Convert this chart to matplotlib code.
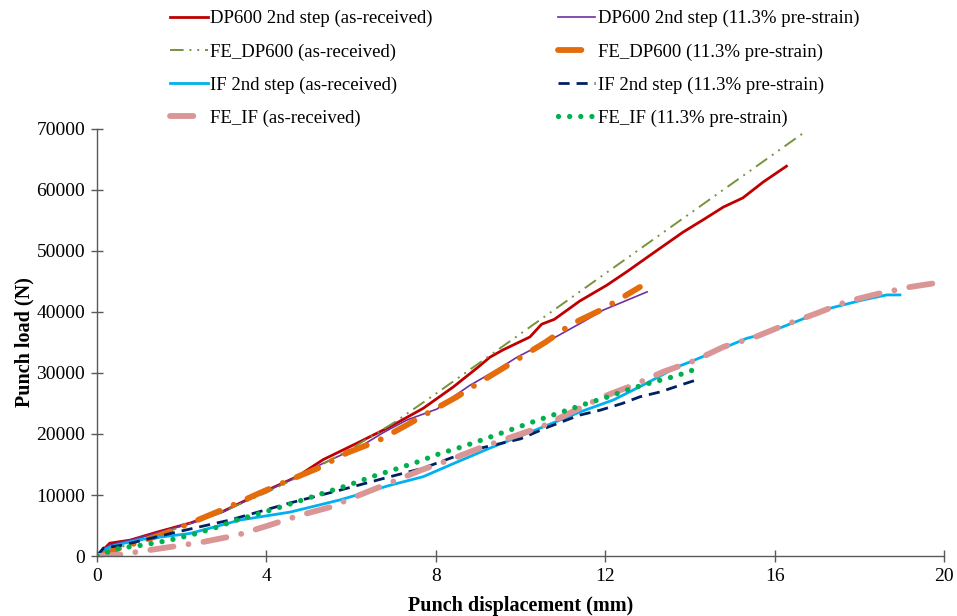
import numpy as np
import matplotlib.pyplot as plt

plt.rcParams['font.family'] = ['Liberation Serif', 'DejaVu Serif']

# DP600 2nd step (as-received)
dp_ar_x = [0, 0.07, 0.3, 0.78, 1.41, 2.2, 2.97, 3.77, 4.72, 5.34, 6.14, 6.92, 7.7, 8.41, 8.97,
           9.28, 9.59, 10.22, 10.5, 10.8, 11.4, 12.04, 12.51, 13.06, 13.84, 14.31, 14.79, 15.25,
           15.73, 16.28]
dp_ar_y = [0, 500, 2100, 2600, 3900, 5400, 7300, 10000, 13000, 15800, 18500, 21200, 24200, 27700,
           30800, 32600, 33800, 35900, 38000, 38800, 41800, 44400, 46600, 49300, 53100, 55100,
           57200, 58700, 61300, 63900]

# DP600 2nd step (11.3% pre-strain)
dp_ps_x = [0, 0.3, 0.78, 1.41, 2.2, 2.97, 3.77, 4.72, 5.34, 6.28, 6.75, 7.32, 8.03, 8.41, 8.81,
           9.44, 9.92, 10.7, 11.48, 11.95, 12.99]
dp_ps_y = [0, 1800, 2600, 3800, 5300, 7200, 9900, 13000, 15200, 18200, 20200, 22300, 24100, 26100,
           28000, 30500, 32600, 35400, 38400, 40300, 43300]

# FE_DP600 (as-received)
fe_dp_ar_x = [0, 0.5, 1, 2, 3, 4, 5, 6, 7, 8, 9.12, 16.67]
fe_dp_ar_y = [0, 1300, 2500, 4800, 7400, 10400, 13800, 17600, 21800, 26600, 32100, 69300]

# FE_DP600 (11.3% pre-strain)
fe_dp_ps_x = [0, 0.5, 1, 1.65, 3.07, 3.8, 4.56, 5.22, 5.9, 6.64, 7.32, 7.98, 8.5, 8.81, 9.99,
              10.6, 11.2, 11.95, 12.82]
fe_dp_ps_y = [0, 1200, 2300, 3800, 7900, 10200, 12500, 14400, 16900, 18900, 21500, 24100, 26100,
              27500, 32500, 35100, 38000, 40500, 44100]

# IF 2nd step (as-received)
if_ar_x = [0, 0.14, 0.4, 1.02, 2.2, 3.38, 4.56, 5.74, 6.92, 7.7, 8.5, 9.28, 10.3, 11.4, 12.2, 13.0,
           13.7, 14.0, 14.55, 15.35, 15.8, 16.5, 17.3, 18.1, 18.65, 18.96]
if_ar_y = [0, 1000, 1700, 2700, 3700, 5900, 7200, 9200, 11600, 13000, 15400, 17700, 20500, 23600,
           25600, 28400, 31000, 31800, 33400, 35700, 36500, 38400, 40600, 42000, 42800, 42800]

# IF 2nd step (11.3% pre-strain)
if_ps_x = [0, 0.15, 0.62, 1.8, 3.14, 4.56, 5.74, 6.92, 7.7, 8.88, 10.0, 10.6, 11.4, 11.88, 12.4,
           12.82, 13.3, 13.77, 14.17]
if_ps_y = [0, 1300, 1800, 3800, 5900, 8700, 10800, 13000, 14400, 17400, 19200, 21000, 23100, 23900,
           25000, 26100, 26900, 28000, 28900]

# FE_IF (as-received)
fe_if_ar_x = [0, 0.5, 0.97, 1.75, 2.5, 3.3, 4.0, 4.8, 5.5, 6.2, 6.92, 7.66, 8.38, 9.04, 10.5, 11.95,
              12.66, 13.37, 14.1, 14.8, 15.54, 16.25, 17.0, 17.7, 18.45, 19.2, 19.95]
fe_if_ar_y = [0, 200, 700, 1500, 2300, 3400, 4900, 6700, 8000, 10000, 12000, 14100, 15900, 17700,
              21200, 26100, 28000, 30200, 32000, 34300, 35900, 37900, 39800, 41700, 43000, 44100,
              44900]

# FE_IF (11.3% pre-strain)
fe_if_ps_x = [0, 0.27, 0.54, 1.09, 1.65, 2.2, 2.74, 3.3, 3.85, 4.37, 4.86, 5.43, 5.93, 6.49, 6.99,
              7.56, 8.1, 8.62, 9.16, 10.3, 11.52, 12.07, 12.59, 13.13, 13.67, 14.2]
fe_if_ps_y = [0, 700, 1300, 1800, 2500, 3400, 4500, 5900, 7000, 8100, 9200, 10500, 11600, 13000,
              14100, 15400, 16800, 17900, 19200, 22000, 24900, 26100, 27400, 28500, 29500, 30800]

fig = plt.figure(figsize=(9.57, 6.16), dpi=100)
ax = fig.add_axes([0.1014, 0.0974, 0.885, 0.6932])

ax.plot(dp_ar_x, dp_ar_y, color='#C00000', lw=2.0, label='DP600 2nd step (as-received)')
ax.plot(dp_ps_x, dp_ps_y, color='#7030A0', lw=1.2, label='DP600 2nd step (11.3% pre-strain)')
ax.plot(fe_dp_ar_x, fe_dp_ar_y, color='#77933C', lw=1.4, dashes=(7, 3, 1, 3, 1, 3),
        label='FE_DP600 (as-received)')
ax.plot(fe_dp_ps_x, fe_dp_ps_y, color='#E46C0A', lw=4.2, dashes=(4, 2.6, 0.01, 2.6),
        dash_capstyle='round', label='FE_DP600 (11.3% pre-strain)')
ax.plot(if_ar_x, if_ar_y, color='#00B0F0', lw=2.0, label='IF 2nd step (as-received)')
ax.plot(if_ps_x, if_ps_y, color='#002060', lw=2.0, dashes=(4, 2.5),
        label='IF 2nd step (11.3% pre-strain)')
ax.plot(fe_if_ar_x, fe_if_ar_y, color='#D99694', lw=4.2, dashes=(4, 2.6, 0.01, 2.6),
        dash_capstyle='round', label='FE_IF (as-received)')
ax.plot(fe_if_ps_x, fe_if_ps_y, color='#00B050', lw=3.8, dashes=(0.01, 2.1),
        dash_capstyle='round', label='FE_IF (11.3% pre-strain)')

ax.set_xlim(0, 20)
ax.set_ylim(0, 70000)
ax.set_xticks([0, 4, 8, 12, 16, 20])
ax.set_yticks(range(0, 70001, 10000))
ax.spines['top'].set_visible(False)
ax.spines['right'].set_visible(False)
for s in ['left', 'bottom']:
    ax.spines[s].set_color('#595959')
    ax.spines[s].set_linewidth(1.0)
ax.tick_params(direction='inout', length=9, width=1.0, color='#595959', labelsize=14, pad=4)
ax.set_xlabel('Punch displacement (mm)', fontsize=14.5, fontweight='bold', labelpad=8)
ax.set_ylabel('Punch load (N)', fontsize=14.5, fontweight='bold', labelpad=1)

h, l = ax.get_legend_handles_labels()
order = [0, 2, 4, 6, 1, 3, 5, 7]
fig.legend([h[i] for i in order], [l[i] for i in order], ncol=2, frameon=False,
           loc='upper left', bbox_to_anchor=(0.168, 0.999), fontsize=13.5, borderpad=0,
           handlelength=2.0, handletextpad=0.15, columnspacing=6.65, labelspacing=0.85)

fig.savefig('out.png', dpi=100)
